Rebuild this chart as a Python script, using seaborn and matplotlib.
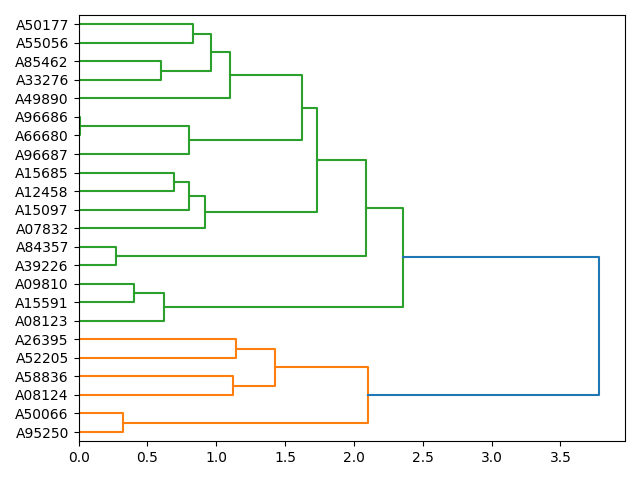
import matplotlib
matplotlib.use("Agg")
import matplotlib.pyplot as plt
import numpy as np
import seaborn as sns

# leaf labels, top to bottom
labels = ["A50177", "A55056", "A85462", "A33276", "A49890", "A96686",
          "A66680", "A96687", "A15685", "A12458", "A15097", "A07832",
          "A84357", "A39226", "A09810", "A15591", "A08123", "A26395",
          "A52205", "A58836", "A08124", "A50066", "A95250"]

# linkage: node ids 0..22 are leaves, new clusters numbered from 23
merge_a = [5, 12, 21, 14, 2, 26, 8, 23, 29, 0, 31, 32, 34, 19, 17, 37, 35, 39, 40, 38, 41, 43]
merge_b = [6, 13, 22, 15, 3, 16, 9, 7, 10, 1, 11, 27, 4, 20, 18, 36, 30, 33, 24, 25, 28, 42]
heights = [0.01, 0.27, 0.32, 0.40, 0.60, 0.62, 0.69, 0.80, 0.80, 0.83, 0.92,
           0.96, 1.10, 1.12, 1.14, 1.43, 1.62, 1.73, 2.09, 2.10, 2.36, 3.78]

n = len(labels)
pos = {i: 10 * (n - 1 - i) + 5 for i in range(n)}
hgt = {i: 0.0 for i in range(n)}
children = {}
for k, (a, b, h) in enumerate(zip(merge_a, merge_b, heights)):
    node = n + k
    pos[node] = (pos[a] + pos[b]) / 2
    hgt[node] = h
    children[node] = (a, b)

threshold = 0.7 * max(heights)
root = n + len(heights) - 1

# colour clusters below threshold, bottom cluster first like scipy
colour = {}
palette = iter(["C1", "C2", "C3", "C4"])
def assign(node, c):
    if node not in children:
        return
    if c is None and hgt[node] < threshold:
        c = "pending"
    colour[node] = c
    for ch in children[node]:
        assign(ch, c)

assign(root, None)
tops = [nd for nd in children if colour[nd] == "pending"
        and all(colour.get(p) != "pending" or nd not in children[p] for p in children)]
tops = sorted(tops, key=lambda nd: pos[nd])
def paint(node, c):
    if node in children:
        colour[node] = c
        for ch in children[node]:
            paint(ch, c)
for nd in tops:
    paint(nd, next(palette))
for nd in children:
    if colour[nd] is None:
        colour[nd] = "C0"

fig, ax = plt.subplots(figsize=(6.4, 4.8))
for node, (a, b) in children.items():
    xs = [hgt[a], hgt[node], hgt[node], hgt[b]]
    ys = [pos[a], pos[a], pos[b], pos[b]]
    sns.lineplot(x=xs, y=ys, sort=False, estimator=None, color=colour[node],
                 linewidth=1.5, ax=ax)

ax.set_xlim(0, max(heights) * 1.05)
ax.set_ylim(0, 10 * n)
ax.set_yticks([pos[i] for i in range(n)])
ax.set_yticklabels(labels)
ax.set_xticks(np.arange(0, 4.0, 0.5))
fig.tight_layout()
fig.savefig("out.png", dpi=100)
